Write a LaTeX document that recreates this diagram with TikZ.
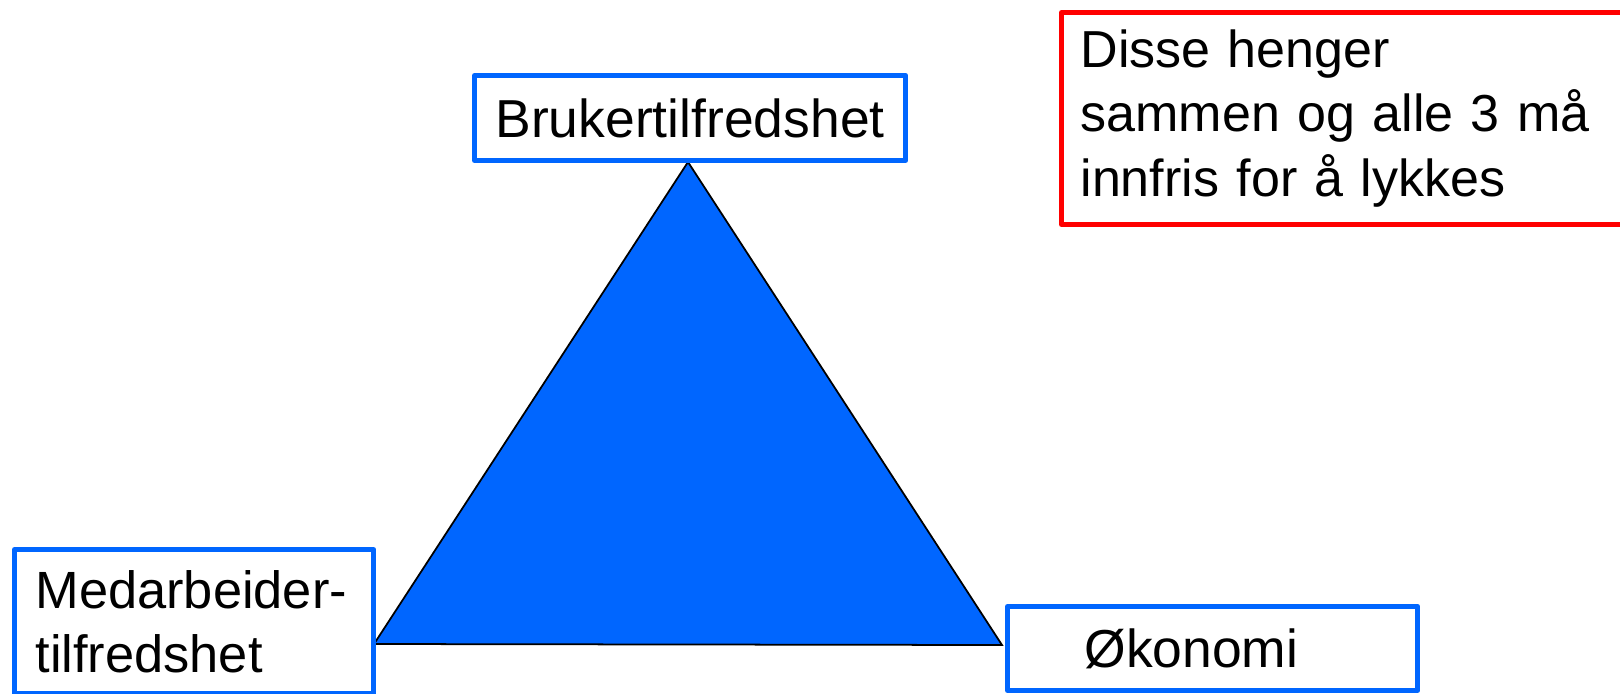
\documentclass[tikz,border=0pt]{standalone}
\usepackage{fontspec}
\setmainfont{Liberation Sans}
\definecolor{boxblue}{HTML}{0066FF}
\definecolor{boxred}{HTML}{FF0000}
\tikzset{
  px/.style={x=0.01cm,y=-0.01cm},
  bluebox/.style={draw=boxblue, line width=1.4pt, fill=white, rectangle, line join=round, font=\fontsize{15.2pt}{17.6pt}\selectfont},
  redbox/.style={draw=boxred, line width=1.4pt, fill=white, rectangle, line join=round, font=\fontsize{14.8pt}{18.4pt}\selectfont},
  tri/.style={fill=boxblue, draw=black, line width=0.5pt, line join=miter}
}
\begin{document}
\begin{tikzpicture}[px]
\useasboundingbox (0,0) rectangle (1620,693);
\clip (0,0) rectangle (1620,693);
% triangle
\coordinate (top) at (688,162);
\coordinate (bl) at (374,644);
\coordinate (br) at (1002,645);
\draw[tri] (top) -- (bl) -- (br) -- cycle;
% boxes
\node[bluebox, anchor=north west, minimum width=4.31cm, minimum height=0.85cm, inner sep=0pt] (bruker) at (472,73) {Brukertilfredshet};
\node[bluebox, font=\fontsize{14.9pt}{18.2pt}\selectfont, anchor=north west, minimum height=1.44cm, inner ysep=0pt, inner xsep=0.21cm, text width=3.17cm, align=left] (medarb) at (12,547) {Medarbeider-\\tilfredshet};
\node[bluebox, anchor=north west, minimum height=0.84cm, inner ysep=0pt, inner xsep=0.77cm, text width=2.56cm, align=left] (okonomi) at (1005,604) {Økonomi};
\node[redbox, anchor=north west, minimum height=2.12cm, inner ysep=0pt, inner xsep=0.19cm, text width=5.8cm, align=left] (note) at (1059,10) {Disse henger\\sammen og alle 3 må\\innfris for å lykkes};
\end{tikzpicture}
\end{document}
